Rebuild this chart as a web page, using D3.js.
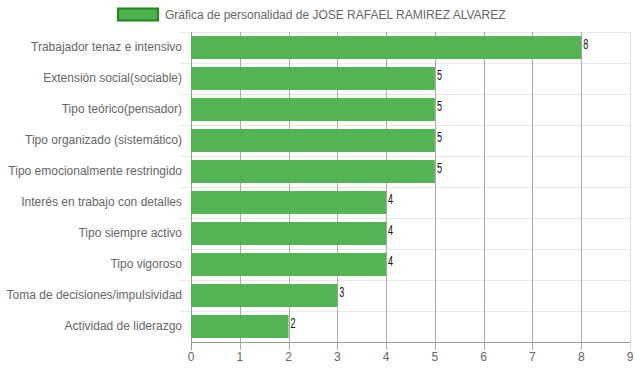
<!DOCTYPE html>
<html><head><meta charset="utf-8">
<script src="https://cdn.jsdelivr.net/npm/d3@7"></script>
<style>body{margin:0;background:#fff}svg{display:block}</style>
</head><body>
<svg id="c" width="637" height="371"></svg>
<script>
const categories = ["Trabajador tenaz e intensivo","Extensión social(sociable)","Tipo teórico(pensador)","Tipo organizado (sistemático)","Tipo emocionalmente restringido","Interés en trabajo con detalles","Tipo siempre activo","Tipo vigoroso","Toma de decisiones/impulsividad","Actividad de liderazgo"];
const values = [8,5,5,5,5,4,4,4,3,2];
const xTicks = [0,1,2,3,4,5,6,7,8,9];
const seriesName = "Gráfica de personalidad de JOSE RAFAEL RAMIREZ ALVAREZ";

(function(){
const svg = d3.select("#c");
const pl = 191, pr = 630, pt = 32, pb = 342;
const x = d3.scaleLinear().domain([0,9]).range([pl,pr]);
const y = d3.scaleBand().domain(categories).range([pt,pb]).paddingInner(0.26).paddingOuter(0.13);
const yb = d3.scaleBand().domain(categories).range([pt,pb]);
const font = "Liberation Sans, Arial, sans-serif";

const hg = svg.append("g");
categories.forEach((c,i)=>{
  const yy = Math.round(yb(c))+0.5;
  hg.append("line").attr("x1",pl-10).attr("x2",pr).attr("y1",yy).attr("y2",yy).attr("stroke","#e8e8e8");
});
const vg = svg.append("g");
xTicks.forEach(t=>{
  const xx = Math.round(x(t))+0.5;
  vg.append("line").attr("x1",xx).attr("x2",xx).attr("y1",pt).attr("y2",pb+8)
    .attr("stroke", t===0 ? "#999" : (t===9 ? "#ddd":"#aaa"));
});
svg.append("line").attr("x1",pl).attr("x2",pr).attr("y1",pb+0.5).attr("y2",pb+0.5).attr("stroke","#999");

svg.append("g").selectAll("rect").data(values).join("rect")
  .attr("x",x(0)).attr("y",(d,i)=>y(categories[i]))
  .attr("width",d=>x(d)-x(0)).attr("height",y.bandwidth())
  .attr("fill","rgb(76,178,76)").attr("fill-opacity",0.97);

svg.append("g").selectAll("text").data(values).join("text")
  .attr("transform",(d,i)=>`translate(${x(d)+2},${y(categories[i])+13}) scale(0.65,1)`)
  .attr("font-family",font).attr("font-size",14).attr("fill","#111")
  .text(d=>d);

svg.append("g").selectAll("text").data(categories).join("text")
  .attr("x",182).attr("y",c=>yb(c)+yb.bandwidth()/2-0.5).attr("dy","0.35em")
  .attr("text-anchor","end").attr("font-family",font).attr("font-size",12).attr("fill","#666")
  .text(c=>c);

svg.append("g").selectAll("text").data(xTicks).join("text")
  .attr("x",t=>x(t)).attr("y",357).attr("dy","0.35em").attr("text-anchor","middle")
  .attr("font-family",font).attr("font-size",12).attr("fill","#666").text(t=>t);

svg.append("rect").attr("x",118).attr("y",8.5).attr("width",40).attr("height",12)
  .attr("fill","rgb(76,178,76)").attr("stroke","#1b8a1b").attr("stroke-width",2);
svg.append("text").attr("x",165).attr("y",14.5).attr("dy","0.35em")
  .attr("font-family",font).attr("font-size",12).attr("fill","#666").text(seriesName);
})();
</script>
</body></html>
